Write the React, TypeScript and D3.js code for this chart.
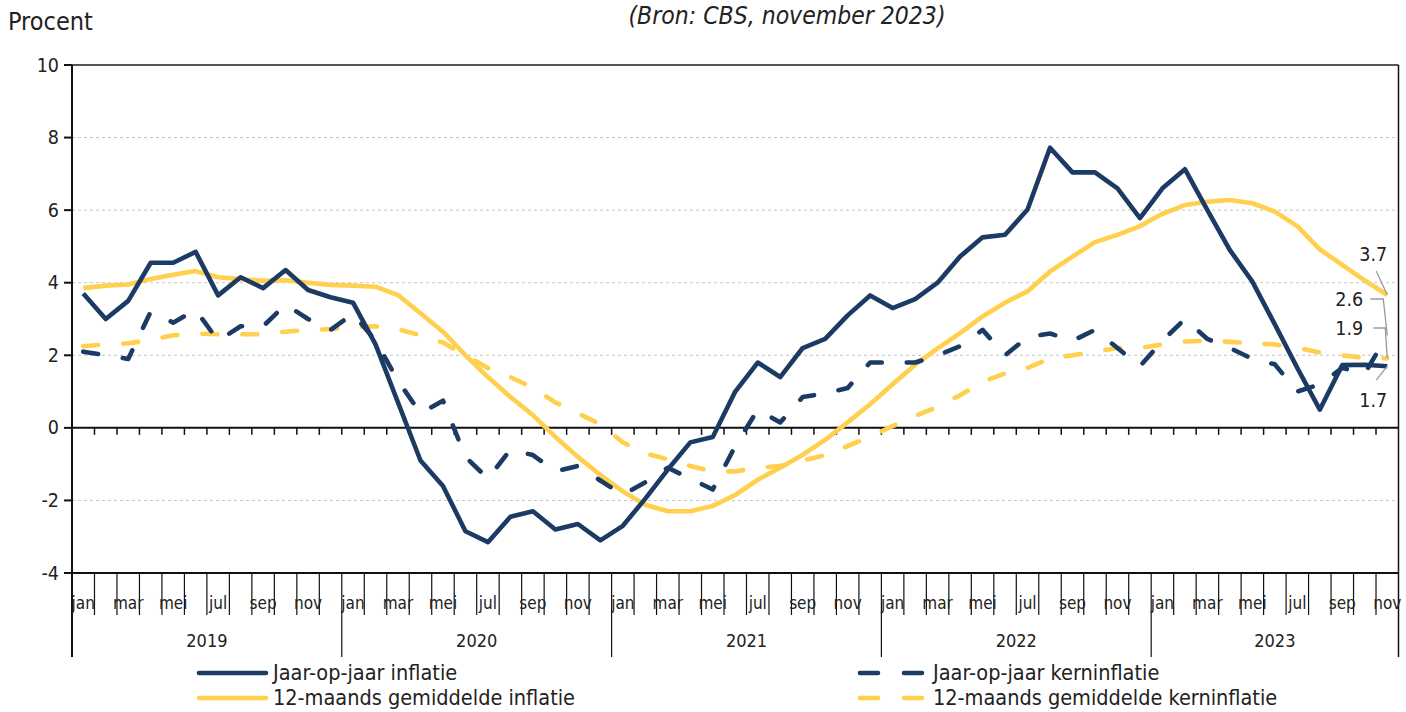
import React from "react";
import * as d3 from "d3";

const monthNames = ["jan", "feb", "mar", "apr", "mei", "jun", "jul", "aug", "sep", "okt", "nov", "dec"];
const years = ["2019", "2020", "2021", "2022", "2023"];
const monthsPerYear = [12, 12, 12, 12, 11];
const yTicks = [-4, -2, 0, 2, 4, 6, 8, 10];

const jaarInflatie = [
  3.7, 3.0, 3.5, 4.55, 4.55, 4.85, 3.65, 4.15, 3.85, 4.35, 3.8, 3.6,
  3.45, 2.3, 0.7, -0.9, -1.6, -2.85, -3.15, -2.45, -2.3, -2.8, -2.65, -3.1,
  -2.7, -1.95, -1.15, -0.4, -0.25, 1.0, 1.8, 1.4, 2.2, 2.45, 3.1, 3.65,
  3.3, 3.55, 4.0, 4.72, 5.25, 5.32, 6.02, 7.72, 7.04, 7.04, 6.6, 5.78,
  6.6, 7.13, 6.0, 4.9, 4.03, 2.85, 1.65, 0.5, 1.73, 1.74, 1.7,
];
const jaarKern = [
  2.1, 2.0, 1.9, 3.2, 2.9, 3.25, 2.4, 2.8, 2.8, 3.4, 3.0, 2.7,
  3.15, 2.4, 1.3, 0.4, 0.75, -0.8, -1.4, -0.6, -0.75, -1.2, -1.05, -1.45,
  -1.85, -1.5, -1.1, -1.4, -1.7, -0.5, 0.5, 0.15, 0.85, 0.95, 1.1, 1.8,
  1.8, 1.8, 2.0, 2.25, 2.7, 2.0, 2.5, 2.6, 2.4, 2.7, 2.2, 1.7,
  2.4, 3.0, 2.45, 2.2, 1.9, 1.75, 1.0, 1.2, 1.65, 1.5, 2.55,
];
const gemInflatie = [
  3.85, 3.92, 3.95, 4.1, 4.22, 4.32, 4.15, 4.1, 4.05, 4.07, 4.0, 3.94,
  3.92, 3.89, 3.66, 3.16, 2.65, 2.0, 1.4, 0.85, 0.35, -0.25, -0.8, -1.3,
  -1.75, -2.12, -2.3, -2.3, -2.15, -1.85, -1.43, -1.1, -0.74, -0.33, 0.15, 0.65,
  1.2, 1.74, 2.19, 2.61, 3.07, 3.45, 3.76, 4.31, 4.72, 5.12, 5.32, 5.56,
  5.9, 6.14, 6.23, 6.28, 6.19, 5.96, 5.56, 4.92, 4.49, 4.06, 3.66,
];
const gemKern = [
  2.25, 2.3, 2.33, 2.42, 2.55, 2.6, 2.58, 2.58, 2.58, 2.65, 2.7, 2.72,
  2.78, 2.8, 2.72, 2.55, 2.35, 2.0, 1.65, 1.4, 1.1, 0.7, 0.4, 0.1,
  -0.4, -0.7, -0.87, -1.05, -1.2, -1.2, -1.1, -1.05, -0.9, -0.75, -0.5, -0.25,
  0.05, 0.33, 0.58, 0.9, 1.27, 1.5, 1.65, 1.92, 2.0, 2.1, 2.2, 2.2,
  2.3, 2.38, 2.4, 2.37, 2.33, 2.3, 2.2, 2.08, 2.0, 1.93, 1.92,
];
const endLabels = ["3.7", "2.6", "1.9", "1.7"];

const BLUE = "#1b3a64";
const YELLOW = "#ffd04d";
const FONT = "'Liberation Sans Narrow', 'DejaVu Sans Condensed', sans-serif";

export default function App() {
  const W = 1406, H = 712;
  const left = 72, right = 1398.5, top = 65, bottom = 573;
  const n = jaarInflatie.length;
  const idx = d3.range(n);
  const x = d3.scaleBand<number>().domain(idx).range([left, right]).padding(0);
  const bw = x.bandwidth();
  const cx = (i: number) => (x(i) as number) + bw / 2;
  const y = d3.scaleLinear().domain([-4, 10]).range([bottom, top]);
  const line = d3.line<number>().x((_, i) => cx(i)).y((d) => y(d));

  const monthIdx = idx.map((i) => i % 12);
  const yearStarts: number[] = [];
  let acc = 0;
  monthsPerYear.forEach((m) => { yearStarts.push(acc); acc += m; });

  const lastX = cx(n - 1);
  const endY = (arr: number[]) => y(arr[arr.length - 1]);

  const series = [
    { data: gemKern, color: YELLOW, dash: "15 25" },
    { data: gemInflatie, color: YELLOW, dash: "" },
    { data: jaarKern, color: BLUE, dash: "15 25" },
    { data: jaarInflatie, color: BLUE, dash: "" },
  ];

  return (
    <svg width={W} height={H} style={{ position: "absolute", left: 0, top: 0, fontFamily: FONT }}>
      <rect x={0} y={0} width={W} height={H} fill="#fff" />
      <text x={8} y={30} fontSize={25} fill="#222">Procent</text>
      <text x={787} y={24} fontSize={24.5} fontStyle="italic" textAnchor="middle" fill="#222">(Bron: CBS, november 2023)</text>

      {yTicks.filter((t) => t !== 0 && t !== -4 && t !== 10).map((t) => (
        <line key={"g" + t} x1={left} x2={right} y1={y(t)} y2={y(t)} stroke="#c4c4c4" strokeWidth={1} strokeDasharray="3 3" />
      ))}

      <line x1={left} x2={right} y1={top} y2={top} stroke="#555" strokeWidth={2} />
      <line x1={right} x2={right} y1={top} y2={657} stroke="#111" strokeWidth={1.5} />
      <line x1={left} x2={right} y1={bottom} y2={bottom} stroke="#111" strokeWidth={2} />
      <line x1={left} x2={left} y1={top} y2={657} stroke="#111" strokeWidth={2} />

      {yTicks.map((t) => (
        <g key={"y" + t}>
          <line x1={left - 8} x2={left} y1={y(t)} y2={y(t)} stroke="#111" strokeWidth={2} />
          <text x={59} y={y(t) + 6.5} fontSize={19.5} textAnchor="end" fill="#222">{t}</text>
        </g>
      ))}

      <line x1={left} x2={right} y1={y(0)} y2={y(0)} stroke="#111" strokeWidth={2} />
      {idx.slice(1).map((i) => (
        <line key={"zt" + i} x1={x(i) as number} x2={x(i) as number} y1={y(0)} y2={y(0) + 7} stroke="#111" strokeWidth={1.5} />
      ))}

      {idx.slice(1).map((i) => {
        const isYear = yearStarts.includes(i);
        return (
          <line key={"cl" + i} x1={x(i) as number} x2={x(i) as number} y1={bottom} y2={isYear ? 657 : 615} stroke="#111" strokeWidth={1.2} />
        );
      })}

      {idx.filter((i) => monthIdx[i] % 2 === 0).map((i) => (
        <text key={"m" + i} x={cx(i)} y={609} fontSize={17} textAnchor="middle" fill="#222">{monthNames[monthIdx[i]]}</text>
      ))}

      {years.map((yr, k) => {
        const s = yearStarts[k];
        const e = s + monthsPerYear[k];
        const mid = ((x(s) as number) + (e >= n ? right : (x(e) as number))) / 2;
        return <text key={yr} x={mid} y={647} fontSize={18} textAnchor="middle" fill="#222">{yr}</text>;
      })}

      {series.map((s, k) => (
        <path key={"s" + k} d={line(s.data) as string} fill="none" stroke={s.color} strokeWidth={4.6}
          strokeDasharray={s.dash || undefined} strokeLinecap={s.dash ? "round" : "butt"} strokeLinejoin="round" />
      ))}

      <g stroke="#9a9a9a" strokeWidth={1.3} fill="none">
        <polyline points={`${lastX - 11},${endY(gemInflatie) - 24} ${lastX},${endY(gemInflatie)}`} />
        <polyline points={`${lastX - 17},${299} ${lastX - 4},${299} ${lastX},${endY(jaarKern)}`} />
        <polyline points={`${lastX - 14},${328} ${lastX - 2},${328} ${lastX},${endY(gemKern)}`} />
        <polyline points={`${lastX - 11},${endY(jaarInflatie) + 14} ${lastX},${endY(jaarInflatie)}`} />
      </g>
      <g fontSize={19.5} fill="#222" textAnchor="end">
        <text x={lastX} y={endY(gemInflatie) - 34}>{endLabels[0]}</text>
        <text x={lastX - 24} y={306}>{endLabels[1]}</text>
        <text x={lastX - 24} y={335}>{endLabels[2]}</text>
        <text x={lastX} y={endY(jaarInflatie) + 41}>{endLabels[3]}</text>
      </g>

      <line x1={199} x2={266} y1={673} y2={673} stroke={BLUE} strokeWidth={4.6} strokeLinecap="round" />
      <text x={273} y={680} fontSize={21.5} fill="#222">Jaar-op-jaar inflatie</text>
      <line x1={199} x2={266} y1={698} y2={698} stroke={YELLOW} strokeWidth={4.6} strokeLinecap="round" />
      <text x={273} y={705} fontSize={21.5} fill="#222">12-maands gemiddelde inflatie</text>
      <line x1={860} x2={922} y1={673} y2={673} stroke={BLUE} strokeWidth={4.6} strokeLinecap="round" strokeDasharray="18 26" />
      <text x={933} y={680} fontSize={21.5} fill="#222">Jaar-op-jaar kerninflatie</text>
      <line x1={860} x2={922} y1={698} y2={698} stroke={YELLOW} strokeWidth={4.6} strokeLinecap="round" strokeDasharray="18 26" />
      <text x={933} y={705} fontSize={21.5} fill="#222">12-maands gemiddelde kerninflatie</text>
    </svg>
  );
}
